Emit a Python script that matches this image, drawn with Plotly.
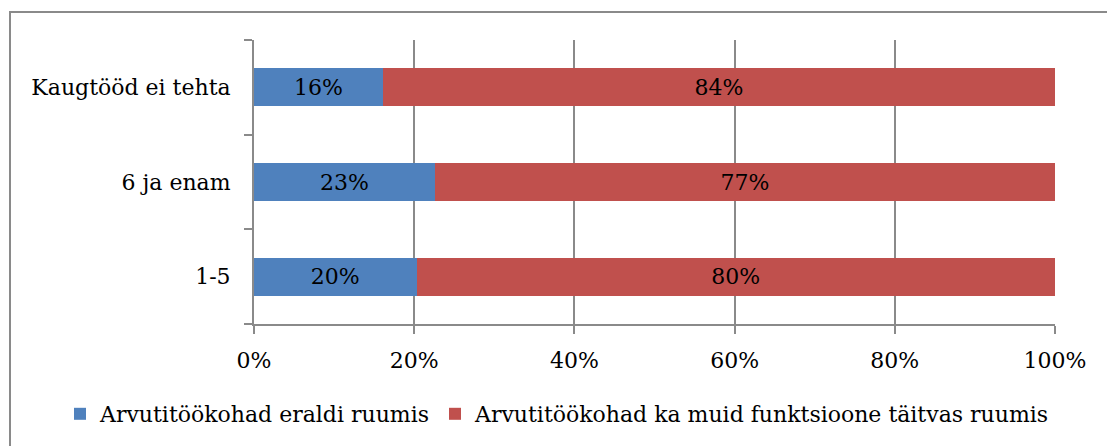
import plotly.graph_objects as go

categories = ["1-5", "6 ja enam", "Kaugtööd ei tehta"]
separate_room = [20.3, 22.6, 16.1]
shared_room = [79.7, 77.4, 83.9]
series_names = ["Arvutitöökohad eraldi ruumis", "Arvutitöökohad ka muid funktsioone täitvas ruumis"]
tick_vals = [0, 20, 40, 60, 80, 100]
tick_text = ["0%", "20%", "40%", "60%", "80%", "100%"]

FONT = "DejaVu Serif"
FS = 22
W, H = 1107, 446
ML, MR, MT, MB = 254, 52, 40, 122
PW, PH = W - ML - MR, H - MT - MB

fig = go.Figure()
for name, vals, color in [(series_names[0], separate_room, "#4F81BD"),
                          (series_names[1], shared_room, "#C0504D")]:
    fig.add_trace(go.Bar(
        y=categories, x=vals, name=name, orientation="h",
        marker=dict(color=color, line=dict(width=0)),
        texttemplate="%{x:.0f}%", textposition="inside",
        insidetextanchor="middle", textangle=0, constraintext="none",
        textfont=dict(family=FONT, size=FS, color="black"),
    ))

fig.update_layout(
    barmode="stack", bargap=0.6,
    width=W, height=H,
    margin=dict(l=ML, r=MR, t=MT, b=MB, autoexpand=False),
    paper_bgcolor="white", plot_bgcolor="white",
    font=dict(family=FONT, size=FS, color="black"),
    showlegend=True,
    legend=dict(orientation="h", xref="paper", x=(60 - ML) / PW, xanchor="left",
                yref="paper", y=(PH + MT - 414) / PH, yanchor="middle",
                bgcolor="rgba(0,0,0,0)",
                font=dict(family=FONT, size=FS), traceorder="normal",
                itemwidth=30, tracegroupgap=0),
    xaxis=dict(range=[0, 100], tickvals=tick_vals, ticktext=tick_text,
               showgrid=True, gridcolor="#8A8A8A", gridwidth=2,
               showline=True, linecolor="#8A8A8A", linewidth=2,
               ticks="outside", ticklen=8, tickwidth=2, tickcolor="#8A8A8A",
               ticklabelstandoff=8, zeroline=False, fixedrange=True),
    yaxis=dict(tickson="boundaries", showgrid=False,
               showline=True, linecolor="#8A8A8A", linewidth=2,
               ticks="outside", ticklen=8, tickwidth=2, tickcolor="#8A8A8A",
               ticklabelstandoff=17, zeroline=False, fixedrange=True),
    shapes=[dict(type="rect", xref="paper", yref="paper",
                 x0=(10 - ML) / PW, x1=(W + 100 - ML) / PW,
                 y0=(PH + MT - (H + 100)) / PH, y1=(PH + MT - 12) / PH,
                 line=dict(color="#8A8A8A", width=2), fillcolor="rgba(0,0,0,0)",
                 layer="below")],
)

fig.write_html("out.html", config={"displayModeBar": False},
               post_script="document.body.style.margin='0';")
